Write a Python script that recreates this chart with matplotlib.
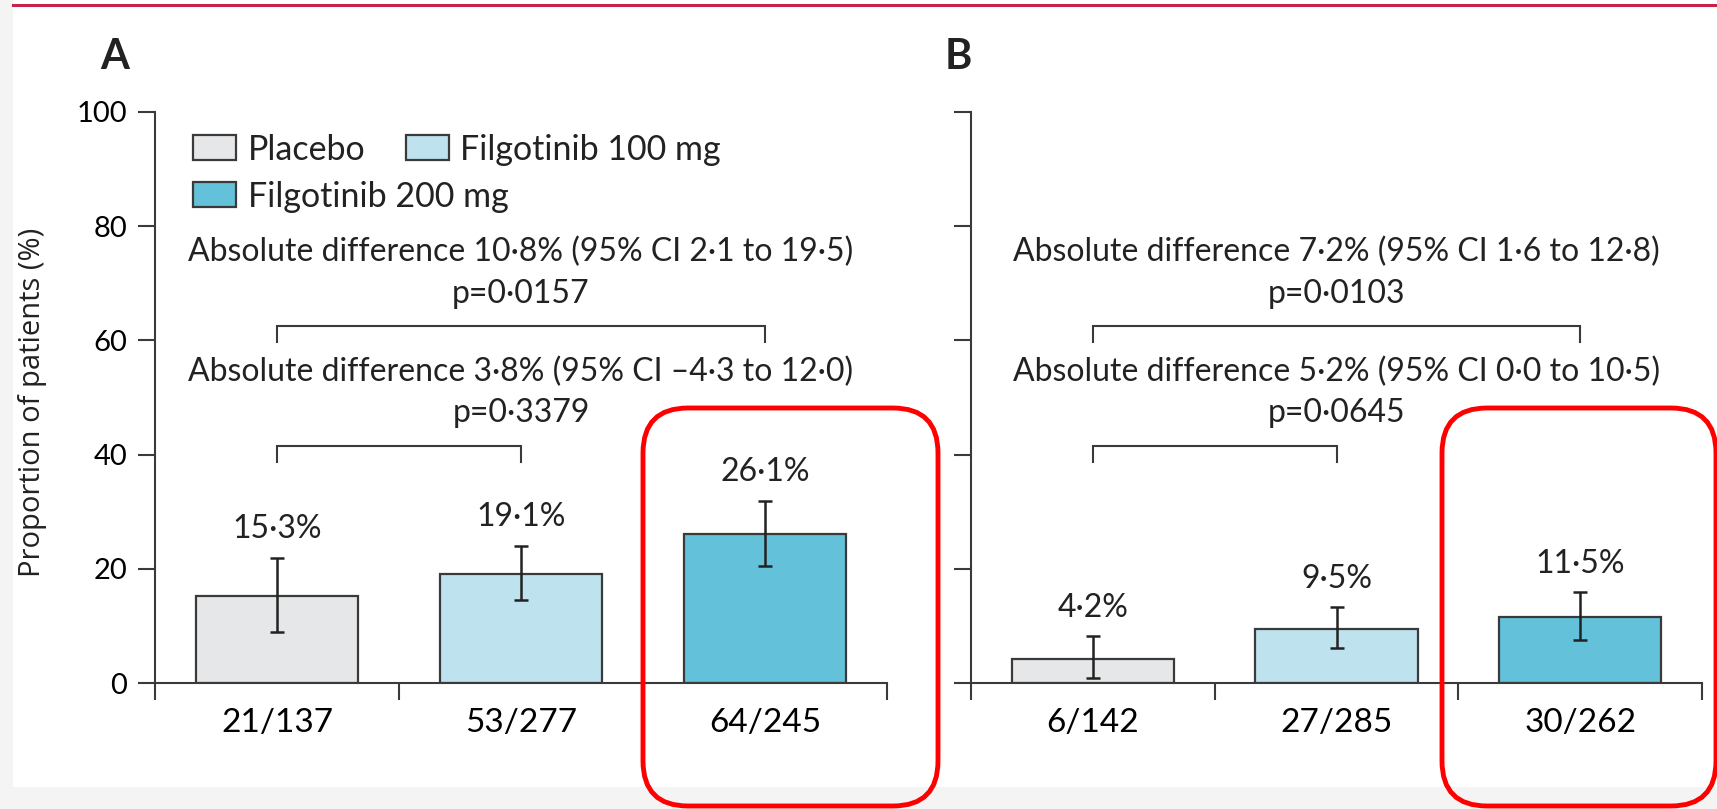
import numpy as np
import matplotlib
matplotlib.use('Agg')
import matplotlib.pyplot as plt
from matplotlib.patches import FancyBboxPatch, Rectangle, Patch
from matplotlib.lines import Line2D
from matplotlib.transforms import IdentityTransform

plt.rcParams['font.family'] = ['Lato', 'DejaVu Sans']
plt.rcParams['text.color'] = '#222222'

### data
groups = ['Placebo', 'Filgotinib 100 mg', 'Filgotinib 200 mg']
colors = ['#e6e7e9', '#bee3ef', '#63c1da']

# panel A
a_pct = [15.3, 19.1, 26.1]
a_lo = [9.0, 14.5, 20.5]
a_hi = [21.9, 24.0, 31.9]
a_counts = ['21/137', '53/277', '64/245']
a_diff_top = 'Absolute difference 10·8% (95% CI 2·1 to 19·5)'
a_p_top = 'p=0·0157'
a_diff_low = 'Absolute difference 3·8% (95% CI \u20134·3 to 12·0)'
a_p_low = 'p=0·3379'

# panel B
b_pct = [4.2, 9.5, 11.5]
b_lo = [0.9, 6.2, 7.6]
b_hi = [8.2, 13.3, 15.9]
b_counts = ['6/142', '27/285', '30/262']
b_diff_top = 'Absolute difference 7·2% (95% CI 1·6 to 12·8)'
b_p_top = 'p=0·0103'
b_diff_low = 'Absolute difference 5·2% (95% CI 0·0 to 10·5)'
b_p_low = 'p=0·0645'

bracket_top = 62.5
bracket_low = 41.5

dark = '#3a3a3a'
W, H = 1717, 809
fs = 23


def bracket(ax, x0, x1, y, text, ptext):
    ax.plot([x0, x0, x1, x1], [y - 2.8, y, y, y - 2.8], color=dark, lw=1.5,
            solid_joinstyle='miter', zorder=3)
    ax.text(1, y + 13.0, text, ha='center', va='center', fontsize=fs)
    ax.text(1, y + 5.7, ptext, ha='center', va='center', fontsize=fs)


def draw_panel(ax, pct, lo, hi, counts, diffs, first):
    pct, lo, hi = np.array(pct), np.array(lo), np.array(hi)
    x = np.arange(len(pct))
    ax.bar(x, pct, width=0.665, color=colors, edgecolor=dark, linewidth=1.6, zorder=2)
    ax.errorbar(x, pct, yerr=[pct - lo, hi - pct], fmt='none', ecolor='#222222',
                elinewidth=1.8, capsize=5, capthick=1.8, zorder=3)
    for xi, p, h in zip(x, pct, hi):
        ax.text(xi, h + 5.0, f'{p:.1f}%'.replace('.', '·'), ha='center', va='center',
                fontsize=23)

    bracket(ax, 0, 2, bracket_top, diffs[0], diffs[1])
    bracket(ax, 0, 1, bracket_low, diffs[2], diffs[3])

    ax.set_xlim(-0.5, 2.5)
    ax.set_ylim(0, 100)
    ax.set_facecolor('none')
    for s in ['top', 'right']:
        ax.spines[s].set_visible(False)
    for s in ['left', 'bottom']:
        ax.spines[s].set_color(dark)
        ax.spines[s].set_linewidth(1.5)

    ax.set_xticks([-0.5, 0.5, 1.5, 2.5])
    ax.set_xticklabels([])
    ax.set_xticks(x, minor=True)
    ax.set_xticklabels(counts, minor=True, fontsize=24)
    ax.tick_params(axis='x', which='major', length=12, width=1.5, color=dark)
    ax.tick_params(axis='x', which='minor', length=0, pad=18)
    ax.set_yticks(np.arange(0, 101, 20))
    ax.tick_params(axis='y', length=12, width=1.5, color=dark, labelsize=21, pad=8)
    if not first:
        ax.set_yticklabels([])


fig = plt.figure(figsize=(W / 100, H / 100), dpi=100)
fig.patch.set_facecolor('#f4f4f4')
fig.patches.append(Rectangle((13 / W, 22 / H), 1 - 13 / W, 1 - 22 / H,
                             transform=fig.transFigure, facecolor='white',
                             edgecolor='none', zorder=-5))
fig.lines.append(Line2D([13 / W, 1], [1 - 5 / H, 1 - 5 / H], transform=fig.transFigure,
                        color='#c8224a', lw=2.2))

ax_a = fig.add_axes([155 / W, 1 - 683 / H, 732 / W, 571 / H])
ax_b = fig.add_axes([971 / W, 1 - 683 / H, 731 / W, 571 / H])

draw_panel(ax_a, a_pct, a_lo, a_hi, a_counts,
           [a_diff_top, a_p_top, a_diff_low, a_p_low], True)
draw_panel(ax_b, b_pct, b_lo, b_hi, b_counts,
           [b_diff_top, b_p_top, b_diff_low, b_p_low], False)

fig.text(33 / W, 1 - 402 / H, 'Proportion of patients (%)', rotation=90,
         ha='center', va='center', fontsize=21, family=['Open Sans', 'DejaVu Sans'])
fig.text(115 / W, 1 - 57 / H, 'A', ha='center', va='center', fontsize=30, weight='bold')
fig.text(958 / W, 1 - 57 / H, 'B', ha='center', va='center', fontsize=30, weight='bold')

# legend, two rows
handles = [Patch(facecolor=c, edgecolor=dark, linewidth=1.6) for c in colors]
leg_kw = dict(loc='center left', frameon=False, fontsize=24.5, handlelength=1.25,
              handleheight=0.75, handletextpad=0.35, borderpad=0, borderaxespad=0)
leg1 = ax_a.legend(handles[:2], groups[:2], ncol=2, columnspacing=1.2,
                   bbox_to_anchor=(0.052, 0.934), **leg_kw)
ax_a.add_artist(leg1)
ax_a.legend(handles[2:], groups[2:], bbox_to_anchor=(0.052, 0.852), **leg_kw)

# highlight boxes around the 200 mg groups
for x0, x1 in [(643, 938), (1442, 1716)]:
    fig.patches.append(FancyBboxPatch((x0, 3), x1 - x0, 398,
                                      boxstyle='round,pad=0,rounding_size=45',
                                      transform=IdentityTransform(), fill=False,
                                      edgecolor='#ff0000', lw=3.5, zorder=10))

fig.savefig('out.png', dpi=100, facecolor=fig.get_facecolor())
